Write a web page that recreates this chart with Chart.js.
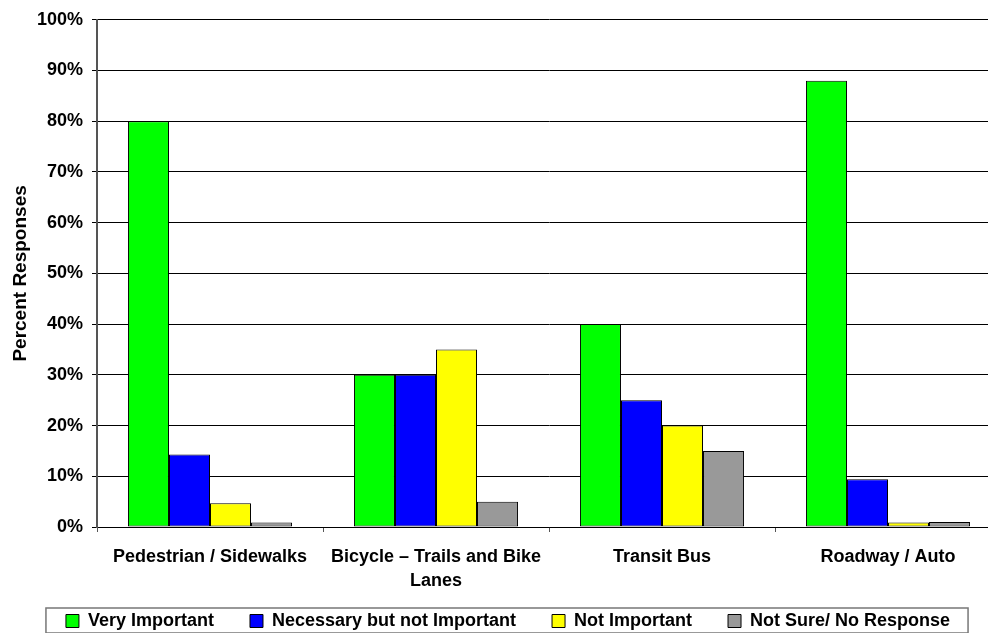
<!DOCTYPE html>
<html>
<head>
<meta charset="utf-8">
<script src="https://cdn.jsdelivr.net/npm/chart.js@4"></script>
<style>
  html, body { margin: 0; padding: 0; background: #fff; overflow: hidden; }
  #wrap { width: 988px; height: 633px; overflow: hidden; }
</style>
</head>
<body>
<div id="wrap"><canvas id="chart" width="1016" height="640"></canvas></div>
<script>
// Categories and series
const categories = ['Pedestrian / Sidewalks', ['Bicycle \u2013 Trails and Bike', 'Lanes'], 'Transit Bus', 'Roadway / Auto'];
const veryImportant = [80, 30, 40, 88];
const necessary = [14.3, 30, 25, 9.4];
const notImportant = [4.7, 35, 20, 0.9];
const notSure = [0.9, 5, 15, 1];
const seriesNames = ['Very Important', 'Necessary but not Important', 'Not Important', 'Not Sure/ No Response'];
const seriesColors = ['#00FF00', '#0000FF', '#FFFF00', '#999999'];

const FONT = "'Liberation Sans', Arial, sans-serif";

// Let the two-line category label run below the axis box instead of being clipped
const labelRoom = {
    id: 'labelRoom',
    afterLayout: (chart) => {
        chart.scales.x.bottom = chart.height;
    }
};

// Draw the frame around the legend
const legendFrame = {
    id: 'legendFrame',
    afterDraw: (chart) => {
        const boxes = chart.legend.legendHitBoxes;
        if (!boxes || !boxes.length) return;
        const first = boxes[0];
        const last = boxes[boxes.length - 1];
        const cy = first.top + first.height / 2;
        const ctx = chart.ctx;
        ctx.save();
        ctx.strokeStyle = '#777';
        ctx.lineWidth = 1.5;
        ctx.strokeRect(first.left - 20, cy - 13, last.left + last.width + 18 - (first.left - 20), 25);
        ctx.restore();
    }
};

const makeDataset = (i, data) => ({
    label: seriesNames[i],
    data: data,
    backgroundColor: seriesColors[i],
    borderColor: '#000',
    borderWidth: 1,
    borderSkipped: false
});

new Chart(document.getElementById('chart').getContext('2d'), {
    type: 'bar',
    data: {
        labels: categories,
        datasets: [
            makeDataset(0, veryImportant),
            makeDataset(1, necessary),
            makeDataset(2, notImportant),
            makeDataset(3, notSure)
        ]
    },
    options: {
        responsive: false,
        animation: false,
        devicePixelRatio: 1,
        layout: { padding: { top: 18, left: 0, right: 0, bottom: 0 } },
        datasets: {
            bar: { categoryPercentage: 0.726, barPercentage: 1 }
        },
        plugins: {
            tooltip: { enabled: false },
            legend: {
                position: 'bottom',
                labels: {
                    boxWidth: 13,
                    boxHeight: 13,
                    padding: 36,
                    color: '#000',
                    font: { family: FONT, size: 18, weight: 'bold' }
                }
            }
        },
        scales: {
            x: {
                grid: { display: true, drawOnChartArea: false, offset: true, tickLength: 5, color: '#555' },
                border: { display: true, color: '#000', width: 1 },
                ticks: {
                    color: '#000',
                    padding: 13,
                    maxRotation: 0,
                    autoSkip: false,
                    font: { family: FONT, size: 18, weight: 'bold', lineHeight: 1.333 }
                },
                afterFit: (scale) => { scale.height = 49; }
            },
            y: {
                min: 0,
                max: 100,
                ticks: {
                    stepSize: 10,
                    color: '#000',
                    padding: 9,
                    font: { family: FONT, size: 18, weight: 'bold' },
                    callback: (v) => v + '%'
                },
                grid: { color: '#000', lineWidth: 1, tickLength: 5 },
                border: { display: true, color: '#555', width: 2 },
                title: {
                    display: true,
                    text: 'Percent Responses',
                    color: '#000',
                    padding: { top: 9, bottom: 0 },
                    font: { family: FONT, size: 19, weight: 'bold' }
                },
                afterFit: (scale) => { scale.width = 97; }
            },
            // spacer on the right so the plot ends where the reference plot ends
            spacer: {
                type: 'linear',
                position: 'right',
                display: true,
                ticks: { display: false },
                grid: { display: false },
                border: { display: false },
                afterFit: (scale) => { scale.width = 15; }
            }
        }
    },
    plugins: [labelRoom, legendFrame]
});
</script>
</body>
</html>
